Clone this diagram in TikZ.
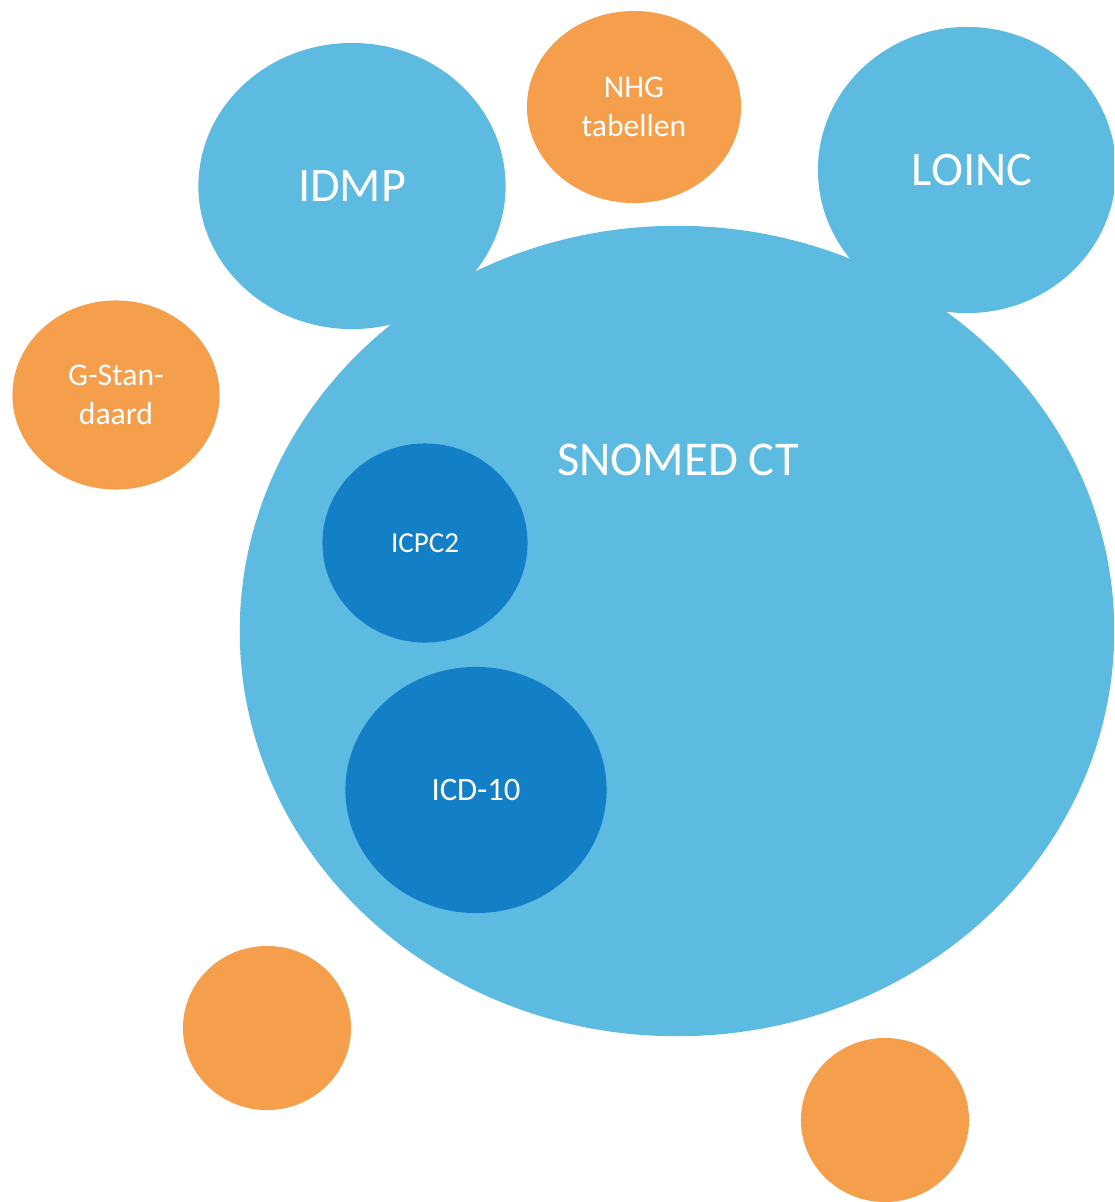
\documentclass[tikz,border=0pt]{standalone}
\usepackage{fontspec}
\setmainfont{Carlito}
\definecolor{lightblue}{HTML}{5DBBE2}
\definecolor{darkblue}{HTML}{137FC7}
\definecolor{orange}{HTML}{F59E4C}
\tikzset{
	blob/.style={ellipse, inner sep=0pt, text=white, align=center},
	terminology/.style={blob, fill=lightblue},
	classification/.style={blob, fill=darkblue},
	national/.style={blob, fill=orange}
}
\usetikzlibrary{shapes.geometric}
\begin{document}
\begin{tikzpicture}[x=0.01cm, y=-0.01cm]
		
		\useasboundingbox (0,0) rectangle (1114,1202);
		\begin{scope}
		\clip (0,0) rectangle (1114,1202);
		
		%%%%% Surrounding terminologies %%%%%%
		\node[terminology, minimum width=3.07cm, minimum height=2.86cm, font=\fontsize{13.7}{16}\selectfont] (idmp) at (352,186){IDMP};
		\node[terminology, minimum width=2.98cm, minimum height=2.86cm, font=\fontsize{13.7}{16}\selectfont] (loinc) at (967,170){\hspace*{0.1cm}LOINC};
		\node[national, minimum width=2.14cm, minimum height=1.92cm, font=\fontsize{9}{11}\selectfont] (nhg) at (634,107){NHG\\tabellen};
		\node[national, minimum width=2.07cm, minimum height=1.89cm, font=\fontsize{9}{11}\selectfont] (gstandaard) at (116,395){G-Stan-\\daard};
		\node[national, minimum width=1.68cm, minimum height=1.64cm] (orangeA) at (267,1028){};
		\node[national, minimum width=1.68cm, minimum height=1.64cm] (orangeB) at (885,1120){};
		
		%%%%% SNOMED CT %%%%%%
		\node[terminology, minimum width=8.74cm, minimum height=8.10cm] (snomed) at (677,631){};
		\node[text=white, font=\fontsize{13.8}{16}\selectfont] (snomedlabel) at (678,460){SNOMED CT};
		
		%%%%% Classifications %%%%%%
		\node[classification, minimum width=2.05cm, minimum height=1.99cm, font=\fontsize{8.25}{10}\selectfont] (icpc) at (425,543){ICPC2};
		\node[classification, minimum width=2.61cm, minimum height=2.46cm, font=\fontsize{9.3}{11}\selectfont] (icd) at (476,790){ICD-10};
		
		\end{scope}
		
		\end{tikzpicture}
\end{document}
